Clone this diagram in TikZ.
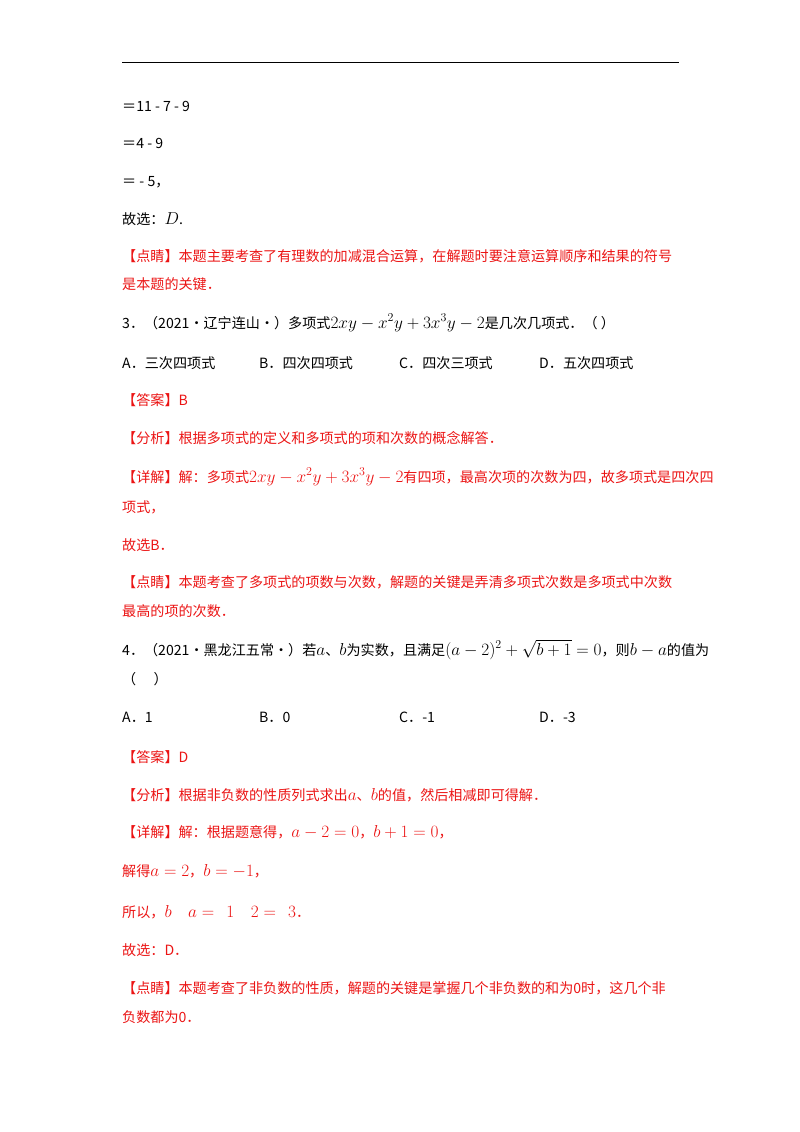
\documentclass[tikz,border=0pt]{standalone}
\usepackage{fontspec}
\newfontfamily\cjk{Noto Sans CJK SC}
\definecolor{ansred}{RGB}{235,20,20}
\newcommand\mth[1]{{\fontsize{16.5}{18}\selectfont$#1$}}
\begin{document}
\begin{tikzpicture}[x=1pt,y=1pt,
  txt/.style={anchor=base west,inner sep=0pt,font=\cjk\fontsize{14.1}{16}\selectfont},
  rtxt/.style={txt,text=ansred}]
\useasboundingbox (0,0) rectangle (800,-1132);
\draw[line width=1pt] (122,-63) -- (679,-63);
\node[txt] (l1) at (122,-111) {＝11 - 7 - 9};
\node[txt] (l2) at (122,-148) {＝4 - 9};
\node[txt] (l3) at (122,-186) {＝ - 5，};
\node[txt] (l4) at (122,-224) {故选：\mth{D}.};
\node[rtxt] (l5) at (122,-261) {【点睛】本题主要考查了有理数的加减混合运算，在解题时要注意运算顺序和结果的符号};
\node[rtxt] (l6) at (122,-289) {是本题的关键．};
\node[txt] (q3) at (122,-328) {3．（2021·辽宁连山·）多项式\mth{2xy-x^2y+3x^3y-2}是几次几项式．（\ ）};
\node[txt] (a3) at (122,-368) {A．三次四项式};
\node[txt] (b3) at (259,-368) {B．四次四项式};
\node[txt] (c3) at (399,-368) {C．四次三项式};
\node[txt] (d3) at (539,-368) {D．五次四项式};
\node[rtxt] (ans3) at (122,-405) {【答案】B};
\node[rtxt] (fx3) at (122,-443) {【分析】根据多项式的定义和多项式的项和次数的概念解答．};
\node[rtxt] (xj3) at (122,-482) {【详解】解：多项式\mth{2xy-x^2y+3x^3y-2}有四项，最高次项的次数为四，故多项式是四次四};
\node[rtxt] (xj3b) at (122,-512) {项式，};
\node[rtxt] (gx3) at (122,-550) {故选B．};
\node[rtxt] (dj3) at (122,-587) {【点睛】本题考查了多项式的项数与次数，解题的关键是弄清多项式次数是多项式中次数};
\node[rtxt] (dj3b) at (122,-616) {最高的项的次数．};
\node[txt] (q4) at (122,-655) {4．（2021·黑龙江五常·）若\mth{a}、\mth{b}为实数，且满足\mth{(a-2)^2+\sqrt{b+1}=0}，则\mth{b-a}的值为};
\node[txt] (q4b) at (122,-684) {（\quad\ ）};
\node[txt] (a4) at (122,-722) {A．1};
\node[txt] (b4) at (259,-722) {B．0};
\node[txt] (c4) at (399,-722) {C．-1};
\node[txt] (d4) at (539,-722) {D．-3};
\node[rtxt] (ans4) at (122,-762) {【答案】D};
\node[rtxt] (fx4) at (122,-800) {【分析】根据非负数的性质列式求出\mth{a}、\mth{b}的值，然后相减即可得解．};
\node[rtxt] (xj4) at (122,-837) {【详解】解：根据题意得，\mth{a-2=0}，\mth{b+1=0}，};
\node[rtxt] (s1) at (122,-876) {解得\mth{a=2}，\mth{b=-1}，};
\node[rtxt] (s2) at (122,-917) {所以，\mth{b\quad a=\ \ 1\quad 2=\ \ 3}．};
\node[rtxt] (gx4) at (122,-955) {故选：D．};
\node[rtxt] (dj4) at (122,-993) {【点睛】本题考查了非负数的性质，解题的关键是掌握几个非负数的和为0时，这几个非};
\node[rtxt] (dj4b) at (122,-1022) {负数都为0．};
\end{tikzpicture}
\end{document}
